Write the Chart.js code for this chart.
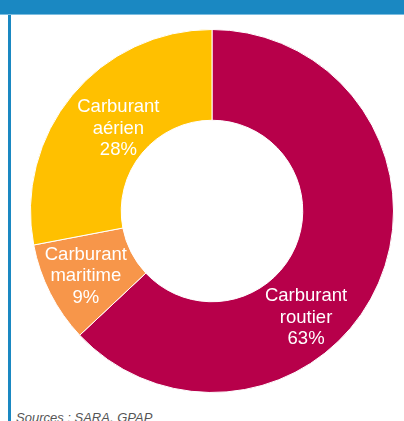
<!DOCTYPE html>
<html>
<head>
<meta charset="utf-8">
<script src="https://cdn.jsdelivr.net/npm/chart.js@4"></script>
<style>
  body { margin: 0; background: #fff; width: 404px; height: 421px; overflow: hidden; position: relative; font-family: "Liberation Sans", Arial, sans-serif; }
  #bar { position: absolute; left: 0; top: 0; width: 404px; height: 14px; background: #1a88c2; border-bottom: 1px solid #7cbde0; }
  #side { position: absolute; left: 8px; top: 15px; width: 3px; height: 406px; background: #1a88c2; }
  #wrap { position: absolute; left: 30px; top: 29px; width: 364px; height: 364px; }
  #src { position: absolute; left: 16px; top: 410px; font-size: 13px; line-height: 15px; font-style: italic; color: #555; }
</style>
</head>
<body>
<div id="bar"></div>
<div id="side"></div>
<div id="wrap"><canvas id="mycanvas" width="364" height="364"></canvas></div>
<div id="src">Sources : SARA, GPAP</div>
<script>
var categories = ['Carburant routier', 'Carburant maritime', 'Carburant aérien'];
var labelLines = [['Carburant', 'routier'], ['Carburant', 'maritime'], ['Carburant', 'aérien']];
var shares = [63, 9, 28];
var colors = ['#b7004a', '#f7964a', '#ffc000'];

// where each label sits inside its slice (fraction of angle, fraction of ring width)
var labelAngle = [0.61, 0.5, 0.52];
var labelRing = [0.56, 0.56, 0.38];

var sliceLabels = {
	id: 'sliceLabels',
	afterDatasetsDraw: function(chart) {
		var ctx = chart.ctx;
		var meta = chart.getDatasetMeta(0);
		ctx.save();
		ctx.fillStyle = '#fff';
		ctx.font = '18.5px "Liberation Sans", Arial, sans-serif';
		ctx.textAlign = 'center';
		ctx.textBaseline = 'middle';
		meta.data.forEach(function(arc, i) {
			var p = arc.getProps(['x', 'y', 'startAngle', 'endAngle', 'innerRadius', 'outerRadius'], true);
			var a = p.startAngle + labelAngle[i] * (p.endAngle - p.startAngle);
			var r = p.innerRadius + labelRing[i] * (p.outerRadius - p.innerRadius);
			var cx = p.x + Math.cos(a) * r;
			var cy = p.y + Math.sin(a) * r + 1;
			var lines = labelLines[i].concat([shares[i] + '%']);
			var lh = 21.5;
			for (var j = 0; j < lines.length; j++) {
				ctx.fillText(lines[j], cx, cy + (j - (lines.length - 1) / 2) * lh);
			}
		});
		ctx.restore();
	}
};

var ctx = document.getElementById('mycanvas');
var chart = new Chart(ctx, {
	type: 'doughnut',
	data: {
		labels: categories,
		datasets: [{
			data: shares,
			backgroundColor: colors,
			borderColor: '#fff',
			borderWidth: 1
		}]
	},
	options: {
		responsive: false,
		animation: false,
		cutout: '50%',
		layout: { padding: 0 },
		plugins: {
			legend: { display: false },
			tooltip: { enabled: false }
		}
	},
	plugins: [sliceLabels]
});
</script>
</body>
</html>
